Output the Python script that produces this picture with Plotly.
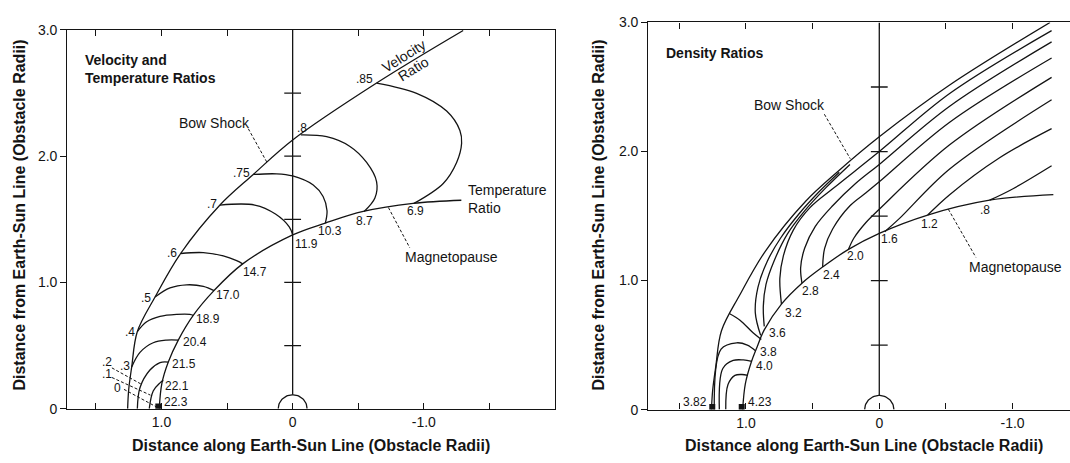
import numpy as np
import plotly.graph_objects as go

# ---------------- LEFT PANEL : velocity & temperature ratios ----------------
bowL_x = [1.258, 1.250, 1.227, 1.184, 1.049, 0.854, 0.554, 0.300, 0.0, -0.640, -1.300]
bowL_y = [0.0, 0.15, 0.331, 0.611, 0.884, 1.229, 1.613, 1.855, 2.128, 2.579, 2.995]
mpL_x = [1.017, 0.997, 0.948, 0.872, 0.758, 0.600, 0.381, 0.0, -0.249, -0.538, -0.918, -1.286]
mpL_y = [0.0, 0.20, 0.369, 0.543, 0.739, 0.935, 1.147, 1.376, 1.470, 1.562, 1.626, 1.651]

vt_x = [
    [-0.640, -0.945, -1.174, -1.275, -1.288, -1.250, -1.148, -0.925],
    [-0.062, -0.259, -0.437, -0.564, -0.640, -0.627, -0.545],
    [0.300, 0.122, 0.0, -0.157, -0.232, -0.262, -0.249],
    [0.554, 0.289, 0.131, 0.026, 0.0],
    [0.854, 0.681, 0.529, 0.427, 0.381],
    [1.049, 0.935, 0.808, 0.681, 0.600],
    [1.184, 1.113, 1.011, 0.884, 0.783, 0.758],
    [1.227, 1.164, 1.063, 0.960, 0.872],
    [1.184, 1.164, 1.088, 1.011, 0.948],
    [1.093, 1.063, 1.011, 0.986],
]
vt_y = [
    [2.579, 2.498, 2.357, 2.204, 2.102, 1.950, 1.784, 1.626],
    [2.168, 2.154, 2.077, 1.950, 1.797, 1.669, 1.562],
    [1.855, 1.860, 1.843, 1.771, 1.680, 1.567, 1.470],
    [1.613, 1.613, 1.542, 1.440, 1.376],
    [1.229, 1.236, 1.210, 1.172, 1.147],
    [0.884, 0.956, 0.981, 0.969, 0.935],
    [0.611, 0.688, 0.731, 0.747, 0.747, 0.739],
    [0.331, 0.446, 0.522, 0.543, 0.543],
    [0.0, 0.166, 0.306, 0.365, 0.369],
    [0.0, 0.140, 0.204, 0.224],
]

vel_text = [".85", ".8", ".75", ".7", ".6", ".5", ".4", ".3", ".2", ".1", "0"]
vel_x = [-0.551, -0.069, 0.389, 0.617, 0.922, 1.118, 1.240, 1.278, 1.418, 1.418, 1.337]
vel_y = [2.612, 2.225, 1.868, 1.618, 1.236, 0.879, 0.604, 0.339, 0.369, 0.273, 0.166]

temp_text = ["6.9", "8.7", "10.3", "11.9", "14.7", "17.0", "18.9", "20.4", "21.5", "22.1", "22.3"]
temp_x = [-0.940, -0.546, -0.283, -0.107, 0.287, 0.495, 0.643, 0.745, 0.828, 0.884, 0.889]
temp_y = [1.562, 1.486, 1.409, 1.307, 1.083, 0.900, 0.713, 0.528, 0.357, 0.178, 0.051]

leadL_x = [[1.378, 1.149], [1.378, 1.084], [1.286, 1.037], [0.338, 0.198], [-0.730, -0.893]]
leadL_y = [[0.323, 0.191], [0.247, 0.107], [0.153, 0.013], [2.217, 1.955], [1.593, 1.274]]

dotL_x = [1.024]
dotL_y = [0.018]

# ---------------- RIGHT PANEL : density ratios ----------------
bowR_x = [1.259, 1.250, 1.227, 1.184, 1.049, 0.854, 0.554, 0.300, 0.0, -0.528, -1.281]
bowR_y = [0.0, 0.15, 0.331, 0.611, 0.884, 1.229, 1.613, 1.855, 2.114, 2.515, 3.0]
mpR_x = [1.025, 1.005, 0.960, 0.923, 0.863, 0.734, 0.580, 0.425, 0.231, 0.0, -0.363, -0.828, -1.306]
mpR_y = [0.0, 0.20, 0.369, 0.469, 0.618, 0.818, 0.980, 1.105, 1.242, 1.366, 1.508, 1.623, 1.666]

den_x = [
    [1.152, 1.135, 1.083, 1.030, 0.985],
    [1.200, 1.174, 1.096, 1.020, 0.956],
    [1.238, 1.187, 1.070, 0.990, 0.929],
    [1.122, 1.045, 0.945, 0.885],
    [0.890, 0.930, 0.910, 0.840, 0.740, 0.600, 0.450, 0.300],
    [0.863, 0.870, 0.850, 0.790, 0.690, 0.560, 0.400, 0.220],
    [0.734, 0.746, 0.720, 0.645, 0.520, 0.345, 0.0, -0.528, -1.293],
    [0.580, 0.590, 0.560, 0.480, 0.350, 0.180, 0.0, -0.528, -1.293],
    [0.425, 0.410, 0.350, 0.220, 0.100, 0.0, -0.528, -1.293],
    [0.231, 0.190, 0.100, 0.0, -0.528, -1.293],
    [-0.041, -0.150, -0.528, -1.293],
    [-0.363, -0.528, -0.900, -1.293],
    [-0.828, -1.000, -1.293],
]
den_y = [
    [0.0, 0.194, 0.265, 0.272, 0.265],
    [0.0, 0.319, 0.381, 0.385, 0.374],
    [0.0, 0.469, 0.518, 0.500, 0.456],
    [0.743, 0.693, 0.593, 0.544],
    [0.575, 0.750, 0.950, 1.150, 1.330, 1.520, 1.690, 1.840],
    [0.645, 0.800, 0.970, 1.150, 1.360, 1.540, 1.720, 1.900],
    [0.818, 1.017, 1.190, 1.391, 1.565, 1.715, 2.000, 2.450, 2.937],
    [0.980, 1.100, 1.250, 1.420, 1.580, 1.750, 1.900, 2.351, 2.850],
    [1.105, 1.250, 1.400, 1.580, 1.680, 1.765, 2.227, 2.725],
    [1.242, 1.330, 1.450, 1.553, 2.052, 2.575],
    [1.379, 1.480, 1.865, 2.401],
    [1.508, 1.666, 1.950, 2.177],
    [1.623, 1.710, 1.890],
]

den_text = ["4.23", "4.0", "3.8", "3.6", "3.2", "2.8", "2.4", "2.0", "1.6", "1.2", ".8", "3.82"]
den_lx = [0.895, 0.864, 0.833, 0.761, 0.644, 0.515, 0.360, 0.179, -0.079, -0.377, -0.795, 1.380]
den_ly = [0.058, 0.339, 0.449, 0.593, 0.748, 0.918, 1.047, 1.187, 1.322, 1.436, 1.546, 0.058]

leadR_x = [[0.412, 0.218], [-0.518, -0.725]]
leadR_y = [[2.289, 1.945], [1.553, 1.180]]

dotR_x = [1.253, 1.032]
dotR_y = [0.020, 0.020]

# shared
axis_cross_y = [0.5, 1.0, 1.5, 2.0, 2.5]
EARTH_R = 0.11
xtick_vals = [1.5, 1.0, 0.5, 0.0, -0.5, -1.0, -1.5]
xtick_text = ["", "1.0", "", "0", "", "-1.0", ""]
ytick_vals = [0, 1, 2, 3]
ytick_text = ["0", "1.0", "2.0", "3.0"]

INK = "#141414"
FONT = "Liberation Sans, Arial, Helvetica, sans-serif"
LW = 1.3

fig = go.Figure()


def line(xs, ys, xa, ya, dash=None, width=LW, shape="spline"):
    fig.add_trace(go.Scatter(
        x=xs, y=ys, xaxis=xa, yaxis=ya, mode="lines",
        line=dict(color=INK, width=width, dash=dash, shape=shape, smoothing=1.0),
        hoverinfo="skip", showlegend=False))


theta = np.linspace(0, np.pi, 40)
for xa, ya in (("x", "y"), ("x2", "y2")):
    line([0, 0], [EARTH_R, 3.0], xa, ya, shape="linear")
    fig.add_trace(go.Scatter(
        x=[0] * len(axis_cross_y), y=axis_cross_y, xaxis=xa, yaxis=ya, mode="markers",
        marker=dict(symbol="line-ew", size=12, line=dict(color=INK, width=LW)),
        hoverinfo="skip", showlegend=False))
    line(EARTH_R * np.cos(theta), EARTH_R * np.sin(theta), xa, ya, shape="linear")

line(bowL_x, bowL_y, "x", "y")
line(mpL_x, mpL_y, "x", "y")
for cx, cy in zip(vt_x, vt_y):
    line(cx, cy, "x", "y")
for cx, cy in zip(leadL_x, leadL_y):
    line(cx, cy, "x", "y", dash="3px,2px", width=1.0, shape="linear")
fig.add_trace(go.Scatter(x=dotL_x, y=dotL_y, xaxis="x", yaxis="y", mode="markers",
                         marker=dict(symbol="square", size=6, color=INK),
                         hoverinfo="skip", showlegend=False))

line(bowR_x, bowR_y, "x2", "y2")
line(mpR_x, mpR_y, "x2", "y2")
for cx, cy in zip(den_x, den_y):
    line(cx, cy, "x2", "y2")
for cx, cy in zip(leadR_x, leadR_y):
    line(cx, cy, "x2", "y2", dash="3px,2px", width=1.0, shape="linear")
fig.add_trace(go.Scatter(x=dotR_x, y=dotR_y, xaxis="x2", yaxis="y2", mode="markers",
                         marker=dict(symbol="square", size=6, color=INK),
                         hoverinfo="skip", showlegend=False))

ann = []


def txt(t, x, y, xr, yr, size=12, xanchor="center", yanchor="middle", angle=0,
        bold=False, align="center"):
    ann.append(dict(text=t, x=x, y=y, xref=xr, yref=yr, showarrow=False,
                    xanchor=xanchor, yanchor=yanchor, textangle=angle, align=align,
                    font=dict(family=FONT, size=size, color=INK,
                              weight="bold" if bold else "normal")))


for t, x, y in zip(vel_text, vel_x, vel_y):
    txt(t, x, y, "x", "y")
for t, x, y in zip(temp_text, temp_x, temp_y):
    txt(t, x, y, "x", "y")
for t, x, y in zip(den_text, den_lx, den_ly):
    txt(t, x, y, "x2", "y2")

txt("Velocity and<br>Temperature Ratios", 1.60, 2.84, "x", "y", size=14,
    xanchor="left", yanchor="top", bold=True, align="left")
txt("Bow Shock", 0.595, 2.263, "x", "y", size=14)
txt("Magnetopause", -0.838, 1.198, "x", "y", size=14, xanchor="left")
txt("Temperature<br>Ratio", -1.325, 1.66, "x", "y", size=14, xanchor="left", align="left")
txt("Velocity", -0.848, 2.79, "x", "y", size=14, angle=-32)
txt("Ratio", -0.919, 2.689, "x", "y", size=14, angle=-32)

txt("Density Ratios", 1.613, 2.762, "x2", "y2", size=14, xanchor="left", bold=True)
txt("Bow Shock", 0.67, 2.364, "x2", "y2", size=14)
txt("Magnetopause", -1.022, 1.105, "x2", "y2", size=14)

xt = "Distance along Earth-Sun Line (Obstacle Radii)"
yt = "Distance from Earth-Sun Line (Obstacle Radii)"
txt(xt, 311 / 1070, 1 - 453 / 463, "paper", "paper", size=16, bold=True)
txt(xt, 864 / 1070, 1 - 453 / 463, "paper", "paper", size=16, bold=True)
txt(yt, 20 / 1070, 1 - 215 / 463, "paper", "paper", size=16, angle=-90, bold=True)
txt(yt, 599 / 1070, 1 - 215 / 463, "paper", "paper", size=16, angle=-90, bold=True)

xcommon = dict(tickvals=xtick_vals, ticktext=xtick_text, ticks="inside", ticklen=6,
               tickwidth=1.2, tickcolor=INK, showline=True, linecolor=INK, linewidth=1.3,
               mirror="ticks", showgrid=False, zeroline=False,
               tickfont=dict(family=FONT, size=14, color=INK))
ycommon = dict(tickvals=ytick_vals, ticktext=ytick_text, ticks="outside", ticklen=6,
               tickwidth=1.2, tickcolor=INK, showline=True, linecolor=INK, linewidth=1.3,
               showgrid=False, zeroline=False, range=[0, 3],
               tickfont=dict(family=FONT, size=14, color=INK))
rticks = dict(tickvals=[1, 2], ticks="inside", ticklen=6, tickwidth=1.2, tickcolor=INK,
              showticklabels=False, showline=False, showgrid=False, zeroline=False,
              range=[0, 3], side="right")

fig.update_layout(
    width=1070, height=463, margin=dict(l=0, r=0, t=0, b=0),
    paper_bgcolor="white", plot_bgcolor="white", showlegend=False,
    xaxis=dict(domain=[67.3 / 1070, 555 / 1070], range=[1.718, -2.0], anchor="y", **xcommon),
    yaxis=dict(domain=[1 - 415 / 463, 1 - 22.7 / 463], anchor="x", mirror=True, **ycommon),
    xaxis2=dict(domain=[648.3 / 1070, 1.0], range=[1.733, -1.431], anchor="y2", **xcommon),
    yaxis2=dict(domain=[1 - 416 / 463, 1 - 15 / 463], anchor="x2", **ycommon),
    yaxis3=dict(overlaying="y", anchor="x", **rticks),
    yaxis4=dict(overlaying="y2", anchor="x2", **rticks),
    annotations=ann,
)

fig.write_html("out.html")
